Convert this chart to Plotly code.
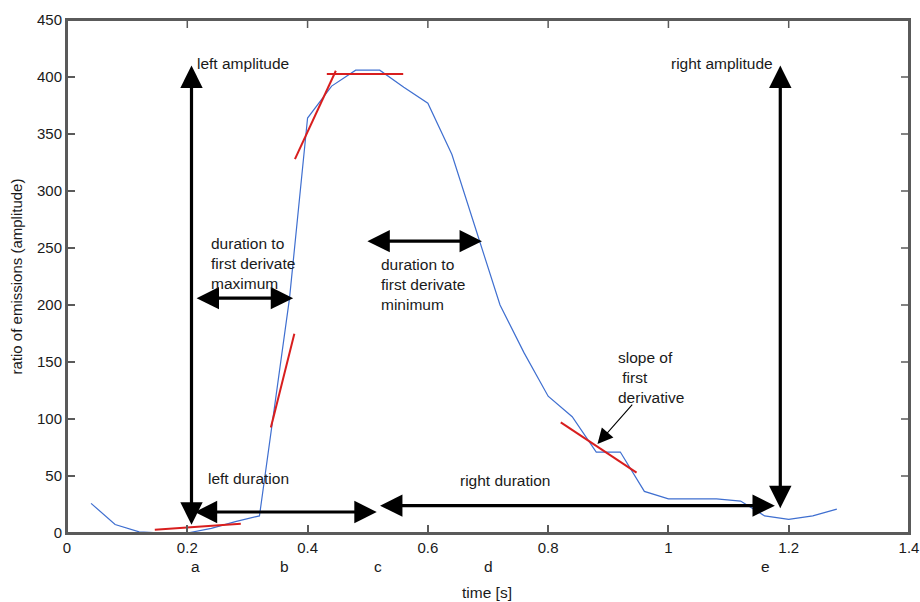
import plotly.graph_objects as go

# ---- data ----
time_s = [0.04, 0.08, 0.12, 0.16, 0.20, 0.24, 0.28, 0.32, 0.37, 0.40, 0.44, 0.48,
          0.52, 0.56, 0.60, 0.64, 0.68, 0.72, 0.76, 0.80, 0.84, 0.88, 0.92, 0.96,
          1.00, 1.04, 1.08, 1.12, 1.16, 1.20, 1.24, 1.28]
amplitude = [26, 7.5, 1, 0, 0, 4, 10, 15, 206, 364, 392, 406,
             406, 391, 377, 332, 266, 200, 158, 120, 102, 71, 71, 36.5,
             30, 30, 30, 28, 15, 12, 15, 21]

# tangent (first-derivative) segments: (x0, y0, x1, y1)
tangents = [
    (0.146, 2.9, 0.289, 8.2),
    (0.339, 92.6, 0.378, 174.7),
    (0.379, 328, 0.447, 405.5),
    (0.432, 402.7, 0.559, 402.7),
    (0.821, 97, 0.947, 53),
]

# arrows: (x_head, y_head, x_tail, y_tail, double)
arrows = [
    (0.207, 410, 0.207, 6, True),      # left amplitude
    (1.186, 410, 1.186, 20.5, True),   # right amplitude
    (0.515, 18.4, 0.210, 18.4, True),  # left duration
    (1.177, 24.0, 0.518, 24.0, True),  # right duration
    (0.376, 206, 0.213, 206, True),    # duration to first derivative maximum
    (0.690, 256, 0.497, 256, True),    # duration to first derivative minimum
]
slope_arrow = (0.882, 78, 0.942, 114)

labels = [
    ("left amplitude", 0.213, 412, "left"),
    ("right amplitude", 1.177, 412, "right"),
    ("duration to<br>first derivate<br>maximum", 0.236, 236.7, "left"),
    ("duration to<br>first derivate<br>minimum", 0.518, 217.7, "left"),
    ("left duration", 0.231, 47.6, "left"),
    ("right duration", 0.650, 46.1, "left"),
    ("slope of<br>\u00a0first<br>derivative", 0.913, 136.8, "left"),
]

point_letters = ["a", "b", "c", "d", "e"]
point_letter_x = [0.213, 0.362, 0.517, 0.700, 1.162]

x_ticks = [0, 0.2, 0.4, 0.6, 0.8, 1.0, 1.2, 1.4]
y_ticks = [0, 50, 100, 150, 200, 250, 300, 350, 400, 450]

FONT = "Liberation Sans, Arial, sans-serif"
TXT = "#1a1a1a"
AX = "#5a5a5a"
FS = 15.5

fig = go.Figure()
fig.add_trace(go.Scatter(x=time_s, y=amplitude, mode="lines",
                         line=dict(color="#3f6fd0", width=1.2),
                         showlegend=False, hoverinfo="skip"))
for (x0, y0, x1, y1) in tangents:
    fig.add_trace(go.Scatter(x=[x0, x1], y=[y0, y1], mode="lines",
                             line=dict(color="#d81e1e", width=2),
                             showlegend=False, hoverinfo="skip"))

annotations = []
for (xh, yh, xt, yt, dbl) in arrows:
    annotations.append(dict(
        x=xh, y=yh, ax=xt, ay=yt, xref="x", yref="y", axref="x", ayref="y",
        text="", showarrow=True, arrowhead=2, startarrowhead=2,
        arrowside="end+start" if dbl else "end",
        arrowsize=1.4, startarrowsize=1.4, arrowwidth=3.2, arrowcolor="black"))
xh, yh, xt, yt = slope_arrow
annotations.append(dict(
    x=xh, y=yh, ax=xt, ay=yt, xref="x", yref="y", axref="x", ayref="y",
    text="", showarrow=True, arrowhead=2, arrowsize=2.8, arrowwidth=1.1,
    arrowcolor="black"))

for (t, x, y, anchor) in labels:
    annotations.append(dict(text=t, x=x, y=y, xref="x", yref="y",
                            xanchor=anchor, yanchor="middle", align="left",
                            showarrow=False, font=dict(family=FONT, size=FS, color=TXT)))

for (t, x) in zip(point_letters, point_letter_x):
    annotations.append(dict(text=t, x=x, y=-29.3 / 450, xref="x", yref="paper",
                            xanchor="center", yanchor="middle", showarrow=False,
                            font=dict(family=FONT, size=FS, color=TXT)))

annotations.append(dict(text="time [s]", x=0.698, y=-52.6 / 450, xref="x", yref="paper",
                        xanchor="center", yanchor="middle", showarrow=False,
                        font=dict(family=FONT, size=FS, color=TXT)))
annotations.append(dict(text="ratio of emissions (amplitude)", x=-0.0594, y=225 / 450,
                        xref="paper", yref="paper", textangle=-90,
                        xanchor="center", yanchor="middle", showarrow=False,
                        font=dict(family=FONT, size=15, color=TXT)))

# plot frame + mirrored ticks on top and right (drawn as layout shapes)
shapes = [dict(type="rect", xref="paper", yref="paper", x0=0, y0=0, x1=1, y1=1,
               line=dict(color=AX, width=2), layer="above")]
for xv in x_ticks[1:-1]:
    shapes.append(dict(type="line", xref="x", yref="paper", x0=xv, x1=xv,
                       y0=1, y1=1 - 8 / 513.3, line=dict(color=AX, width=1.5)))
for yv in y_ticks[1:-1]:
    shapes.append(dict(type="line", xref="paper", yref="y", x0=1, x1=1 - 8 / 842,
                       y0=yv, y1=yv, line=dict(color=AX, width=1.5)))

axis_common = dict(ticks="inside", ticklen=8, tickcolor=AX, tickwidth=1.5,
                   showline=True, linecolor=AX, linewidth=2, showgrid=False,
                   zeroline=False, automargin=False, mirror=True)

fig.update_layout(
    width=920, height=602, autosize=False,
    margin=dict(l=67, r=11, t=20, b=69, autoexpand=False),
    plot_bgcolor="white", paper_bgcolor="white",
    font=dict(family=FONT, size=15, color=TXT),
    annotations=annotations, shapes=shapes,
    xaxis=dict(range=[0, 1.4], tickvals=x_ticks, **axis_common,
               tickfont=dict(family=FONT, size=15, color=TXT)),
    yaxis=dict(range=[0, 450], tickvals=y_ticks, **axis_common,
               tickfont=dict(family=FONT, size=15, color=TXT)),
)

fig.write_html("out.html")
